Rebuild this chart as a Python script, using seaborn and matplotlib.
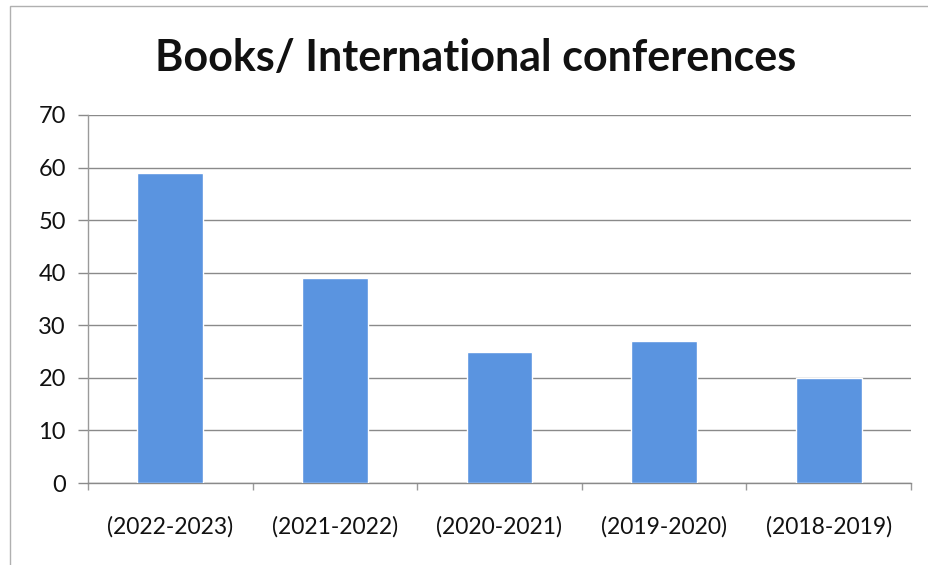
import matplotlib
matplotlib.use("Agg")
import matplotlib.pyplot as plt
import seaborn as sns
import pandas as pd
import numpy as np

years = ["(2022-2023)", "(2021-2022)", "(2020-2021)", "(2019-2020)", "(2018-2019)"]
counts = [59, 39, 25, 27, 20]
yticks = [0, 10, 20, 30, 40, 50, 60, 70]

sns.set_theme(style="white")
plt.rcParams['font.family'] = ['Lato', 'DejaVu Sans']

df = pd.DataFrame({"year": years, "count": counts})

fig = plt.figure(figsize=(9.29, 5.65), dpi=100)
ax = fig.add_axes([0.0947, 0.1451, 0.9806 - 0.0947, 0.7965 - 0.1451])

sns.barplot(data=df, x="year", y="count", color="#5A94E0", width=0.4,
            saturation=1, ax=ax, zorder=3)

ax.set_ylim(0, 70)
ax.set_yticks(yticks)
ax.set_xlim(-0.5, len(years) - 0.5)
ax.set_xlabel("")
ax.set_ylabel("")
ax.grid(axis="y", color="#8a8a8a", linewidth=1.0, zorder=0)
ax.set_axisbelow(True)

for s in ["top", "right"]:
    ax.spines[s].set_visible(False)
ax.spines["left"].set_color("#9a9a9a")
ax.spines["bottom"].set_color("#8a8a8a")
ax.spines["left"].set_linewidth(1.0)
ax.spines["bottom"].set_linewidth(1.0)

ax.tick_params(axis="y", length=7, width=1, color="#8a8a8a", pad=9,
               labelsize=17, labelcolor="#111111", left=True)
ax.tick_params(axis="x", which="major", length=0, pad=24, labelsize=16.5,
               labelcolor="#111111")
ax.set_xticks(np.arange(-0.5, len(years), 1.0), minor=True)
ax.tick_params(axis="x", which="minor", length=5, width=1, color="#9a9a9a",
               bottom=True)

fig.text(0.512, 0.897, "Books/ International conferences", ha="center",
         va="center", fontsize=31, fontweight="bold", color="#111111")

# faint outer chart border
fig.patches.append(plt.Rectangle((0.011, -0.01), 0.99, 1.0, transform=fig.transFigure,
                                 fill=False, edgecolor="#b0b0b0", linewidth=1.0))

fig.savefig("out.png", dpi=100, facecolor="white")
